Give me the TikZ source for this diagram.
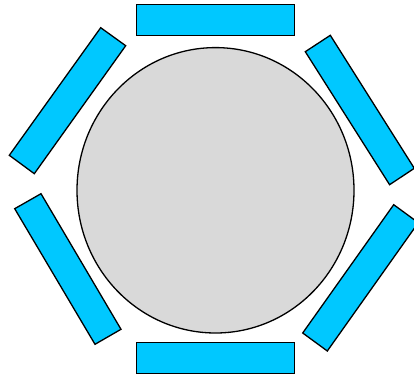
\documentclass[tikz,border=0pt]{standalone}
\begin{document}
\begin{tikzpicture}[x=1pt,y=-1pt,
  bar/.style={draw=black,fill={rgb,255:red,0;green,200;blue,255},line width=1.3pt,line join=miter},
  core/.style={draw=black,fill={rgb,255:red,217;green,217;blue,217},line width=1.3pt}]
\useasboundingbox (0,0) rectangle (414,379);
\clip (0,0) rectangle (414,379);
% central disc
\draw[core] (215.5,190.3) ellipse [x radius=138.5, y radius=142.7];
% top and bottom bars
\draw[bar] (136.3,4.5) rectangle (294.7,35.3);
\draw[bar] (136.3,342.7) rectangle (294.7,373.3);
% upper-left bar
\draw[bar] (100.7,27.7) -- (125.7,45.7) -- (34.3,173.7) -- (9.3,155.3) -- cycle;
% lower-left bar
\draw[bar] (14.7,208.7) -- (41,193.7) -- (121,329.3) -- (95,344.3) -- cycle;
% upper-right bar
\draw[bar] (305.3,51.7) -- (330.3,35.3) -- (414.3,168.3) -- (389.6,184.7) -- cycle;
% lower-right bar
\draw[bar] (393.7,204.7) -- (418.3,222.7) -- (327.3,351) -- (302.7,333) -- cycle;
\end{tikzpicture}
\end{document}
